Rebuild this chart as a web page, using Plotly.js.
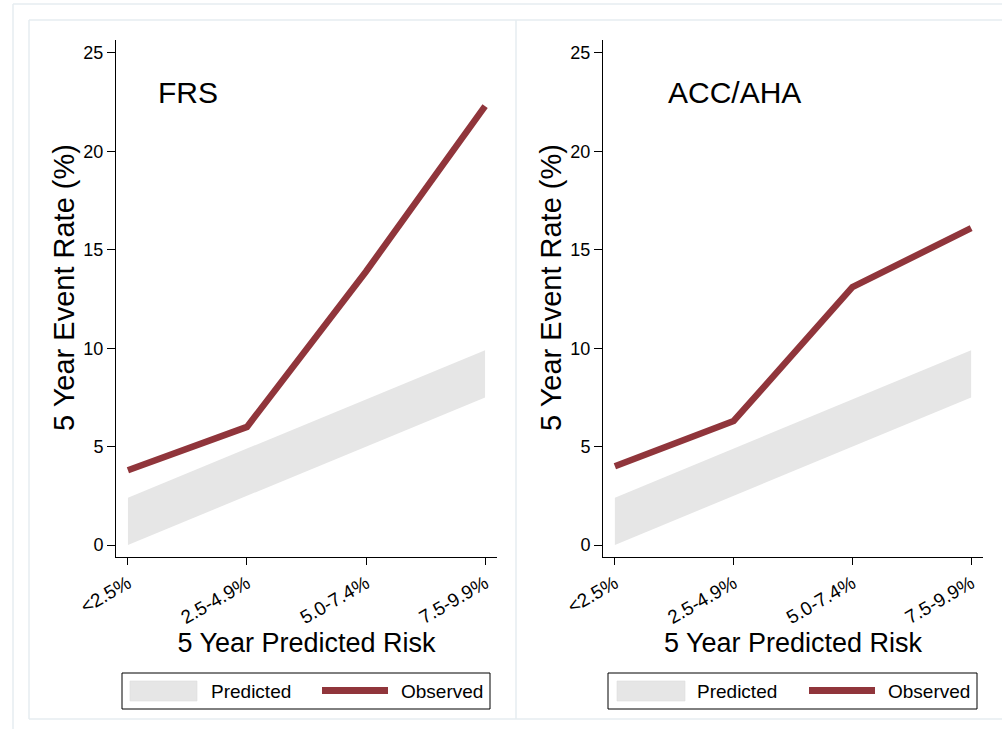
<!DOCTYPE html>
<html>
<head>
<meta charset="utf-8">
<script src="https://cdn.plot.ly/plotly-3.0.1.min.js"></script>
<style>
  html, body { margin: 0; padding: 0; background: #ffffff; }
  #chart { width: 1002px; height: 729px; }
</style>
</head>
<body>
<div id="chart"></div>
<script>
// Risk categories on the x axis
const categories = ['<2.5%', '2.5-4.9%', '5.0-7.4%', '7.5-9.9%'];

// Predicted band: lower and upper bound of each risk category (%)
const predictedLow = [0, 2.5, 5.0, 7.5];
const predictedHigh = [2.4, 4.9, 7.4, 9.9];

// Observed 5-year event rates (%)
const frsObserved = [3.8, 6.0, 13.9, 22.3];
const accahaObserved = [4.0, 6.3, 13.1, 16.1];

// Panel titles and shared labels
const panelTitles = ['FRS', 'ACC/AHA'];
const yTickValues = [0, 5, 10, 15, 20, 25];
const legendLabels = ['Predicted', 'Observed'];
const xTitle = '5 Year Predicted Risk';
const yTitle = '5 Year Event Rate (%)';

const W = 1002, H = 729;
const px = v => v / W;          // pixel -> paper x
const py = v => 1 - v / H;      // pixel -> paper y

const FONT = 'Liberation Sans, Arial, Helvetica, sans-serif';
const RED = '#90353b';
const BAND = '#e6e6e6';
const FRAME = '#e6edf0';

function panelTraces(obs, xa, ya) {
  return [
    { x: categories, y: predictedLow, xaxis: xa, yaxis: ya, type: 'scatter', mode: 'lines',
      line: { width: 0, color: BAND }, hoverinfo: 'skip', showlegend: false },
    { x: categories, y: predictedHigh, xaxis: xa, yaxis: ya, type: 'scatter', mode: 'lines',
      fill: 'tonexty', fillcolor: BAND, line: { width: 0, color: BAND },
      name: legendLabels[0], showlegend: false },
    { x: categories, y: obs, xaxis: xa, yaxis: ya, type: 'scatter', mode: 'lines',
      line: { width: 6.5, color: RED }, name: legendLabels[1], showlegend: false }
  ];
}

const data = [
  ...panelTraces(frsObserved, 'x', 'y'),
  ...panelTraces(accahaObserved, 'x2', 'y2')
];

const xCommon = {
  type: 'category', range: [-0.1, 3.1], showgrid: false, zeroline: false,
  showline: true, linecolor: '#000', linewidth: 1,
  ticks: 'outside', ticklen: 7, tickcolor: '#000', tickwidth: 1,
  tickangle: -30, tickfont: { family: FONT, size: 19, color: '#000' },
  title: { text: xTitle, font: { family: FONT, size: 27, color: '#000' }, standoff: 6 }
};
const yCommon = {
  range: [-0.61, 25.66], showgrid: false, zeroline: false,
  showline: true, linecolor: '#000', linewidth: 1,
  ticks: 'outside', ticklen: 8, tickcolor: '#000', tickwidth: 1,
  tickmode: 'array', tickvals: yTickValues, ticktext: yTickValues.map(String),
  tickfont: { family: FONT, size: 18, color: '#000' }
};

const yDomain = [py(557), py(40)];

// Frame lines around the figure and the two panels
const frame = (x0, y0, x1, y1) => ({ type: 'line', xref: 'paper', yref: 'paper',
  x0: x0, x1: x1, y0: y0, y1: y1, line: { color: FRAME, width: 1.5 }, layer: 'below' });
const shapes = [
  frame(px(13), py(4), 1, py(4)),
  frame(px(13), py(4), px(13), 0),
  frame(px(29), py(20), 1, py(20)),
  frame(px(29), py(20), px(29), py(719)),
  frame(px(516), py(20), px(516), py(719)),
  frame(px(29), py(719), 1, py(719))
];

const annotations = [];

// Legend box for each panel, built from shapes and text
function addLegend(box, gray, red, t1, t2) {
  shapes.push({ type: 'rect', xref: 'paper', yref: 'paper', x0: px(box[0]), x1: px(box[1]), y0: py(709), y1: py(673),
    line: { color: '#000', width: 1 }, fillcolor: '#fff' });
  shapes.push({ type: 'rect', xref: 'paper', yref: 'paper', x0: px(gray[0]), x1: px(gray[1]), y0: py(701), y1: py(681),
    line: { color: '#dddddd', width: 0.6 }, fillcolor: BAND });
  shapes.push({ type: 'line', xref: 'paper', yref: 'paper', x0: px(red[0]), x1: px(red[1]), y0: py(690.5), y1: py(690.5),
    line: { color: RED, width: 7 } });
  annotations.push({ xref: 'paper', yref: 'paper', x: px(t1), y: py(691), xanchor: 'left', yanchor: 'middle',
    text: legendLabels[0], showarrow: false, font: { family: FONT, size: 19, color: '#000' } });
  annotations.push({ xref: 'paper', yref: 'paper', x: px(t2), y: py(691), xanchor: 'left', yanchor: 'middle',
    text: legendLabels[1], showarrow: false, font: { family: FONT, size: 19, color: '#000' } });
}
addLegend([122, 490], [130, 197], [322, 388], 209, 399);
addLegend([608, 977], [617, 685], [809, 875], 695, 886);

// Panel titles
annotations.push({ xref: 'paper', yref: 'paper', x: px(156), y: py(93), xanchor: 'left', yanchor: 'middle',
  text: panelTitles[0], showarrow: false, font: { family: FONT, size: 30, color: '#000' } });
annotations.push({ xref: 'paper', yref: 'paper', x: px(666), y: py(93), xanchor: 'left', yanchor: 'middle',
  text: panelTitles[1], showarrow: false, font: { family: FONT, size: 30, color: '#000' } });

// Vertical axis titles
[64, 551].forEach(cx => {
  annotations.push({ xref: 'paper', yref: 'paper', x: px(cx), y: py(288), xanchor: 'center', yanchor: 'middle',
    textangle: -90, text: yTitle, showarrow: false, font: { family: FONT, size: 29, color: '#000' } });
});

const layout = {
  width: W, height: H,
  margin: { l: 0, r: 0, t: 0, b: 0 },
  paper_bgcolor: '#ffffff', plot_bgcolor: '#ffffff',
  showlegend: false,
  font: { family: FONT, color: '#000' },
  xaxis: Object.assign({}, xCommon, { domain: [px(116), px(497)], anchor: 'y' }),
  yaxis: Object.assign({}, yCommon, { domain: yDomain, anchor: 'x' }),
  xaxis2: Object.assign({}, xCommon, { domain: [px(603), px(983)], anchor: 'y2' }),
  yaxis2: Object.assign({}, yCommon, { domain: yDomain, anchor: 'x2' }),
  shapes: shapes,
  annotations: annotations
};

Plotly.newPlot('chart', data, layout, { displayModeBar: false, staticPlot: true });
</script>
</body>
</html>
